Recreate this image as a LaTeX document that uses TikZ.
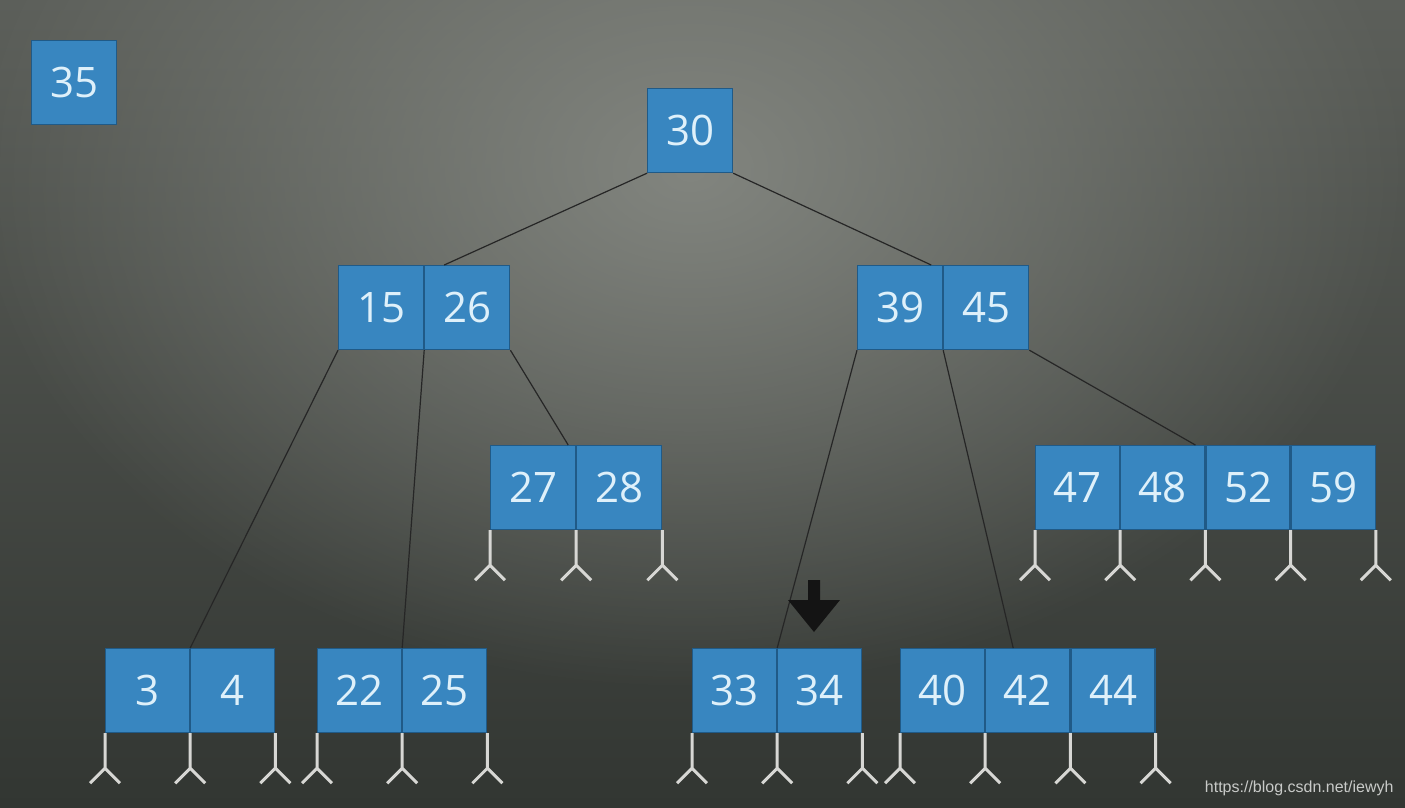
\documentclass[tikz,border=0pt]{standalone}
\usepackage{fontspec}
\setmainfont{Open Sans}
\newfontfamily\urlfont{Liberation Sans}
\usetikzlibrary{fadings}
\definecolor{cellblue}{RGB}{56,134,192}
\definecolor{celledge}{RGB}{32,90,135}
\definecolor{numcol}{RGB}{222,240,250}
\definecolor{bgtop}{RGB}{92,95,90}
\definecolor{bgbot}{RGB}{50,54,50}
\definecolor{bgglow}{RGB}{130,133,127}
\definecolor{forkcol}{RGB}{215,215,212}
\definecolor{urlcol}{RGB}{200,202,200}
\tikzfading[name=glow, inner color=transparent!0, outer color=transparent!100]
\begin{document}
\begin{tikzpicture}[x=1pt,y=-1pt,
  cell/.style={draw=celledge, line width=1.2pt, fill=cellblue, minimum width=85pt, minimum height=84pt, inner sep=0pt, anchor=north west, text=numcol, font=\fontsize{42}{42}\selectfont},
  leaf/.style={cell, minimum width=84pt},
  link/.style={draw=black!85, line width=1.2pt},
  fork/.pic={\draw[forkcol, line width=3pt] (0,0) -- (0,35) (-15,50) -- (0,35) -- (15,50);}
]
\useasboundingbox (0,0) rectangle (1405,807);
\shade[top color=bgtop, bottom color=bgbot] (0,0) rectangle (1405,807);
\fill[bgglow, path fading=glow] (690,170) ellipse (720pt and 520pt);

% nodes
\node[cell] (c35) at (31,40) {35};
\node[cell] (c30) at (647,88) {30};
\node[cell] (c15) at (338,265) {15};
\node[cell] (c26) at (c15.north east) {26};
\node[cell] (c39) at (857,265) {39};
\node[cell] (c45) at (c39.north east) {45};
\node[cell] (c27) at (490,445) {27};
\node[cell] (c28) at (c27.north east) {28};
\node[leaf] (c47) at (1035,445) {47};
\node[leaf] (c48) at (c47.north east) {48};
\node[leaf] (c52) at (c48.north east) {52};
\node[leaf] (c59) at (c52.north east) {59};
\node[leaf] (c3) at (105,648) {3};
\node[leaf] (c4) at (c3.north east) {4};
\node[leaf] (c22) at (317,648) {22};
\node[leaf] (c25) at (c22.north east) {25};
\node[leaf] (c33) at (692,648) {33};
\node[leaf] (c34) at (c33.north east) {34};
\node[leaf] (c40) at (900,648) {40};
\node[leaf] (c42) at (c40.north east) {42};
\node[leaf] (c44) at (c42.north east) {44};

% links
\draw[link] (c30.south west) -- ([xshift=20pt]c15.north east);
\draw[link] (c30.south east) -- ([xshift=-12pt]c39.north east);
\draw[link] (c15.south west) -- (c3.north east);
\draw[link] (c15.south east) -- (c22.north east);
\draw[link] (c26.south east) -- ([xshift=-8pt]c27.north east);
\draw[link] (c39.south west) -- (c33.north east);
\draw[link] (c39.south east) -- ([xshift=28pt]c40.north east);
\draw[link] (c45.south east) -- ([xshift=-10pt]c48.north east);

% forks
\foreach \n in {c27,c28,c47,c48,c52,c59,c3,c4,c22,c25,c33,c34,c40,c42,c44}
  \pic at (\n.south west) {fork};
\foreach \n in {c28,c59,c4,c25,c34,c44}
  \pic at (\n.south east) {fork};

% arrow
\fill[black!92] (808,580) -- (820,580) -- (820,600) -- (840,600) -- (814,632) -- (788,600) -- (808,600) -- cycle;

% url
\node[anchor=east, text=urlcol, font=\urlfont\fontsize{16}{16}\selectfont] (url) at (1397,788) {https://blog.csdn.net/iewyh};
\end{tikzpicture}
\end{document}
